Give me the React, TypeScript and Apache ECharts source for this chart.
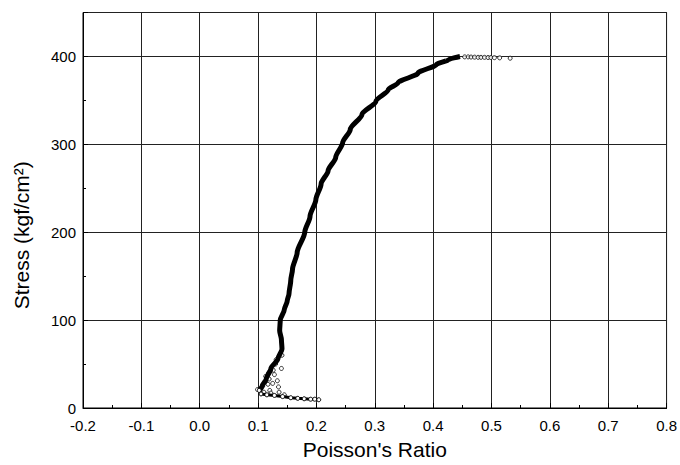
import React, { useEffect, useRef } from "react";
import * as echarts from "echarts";

// Main dense band (Poisson's ratio, stress)
const mainX = [0.102, 0.107, 0.114, 0.122, 0.134, 0.141, 0.140, 0.137, 0.138, 0.145, 0.150, 0.153, 0.156, 0.159, 0.167, 0.180, 0.189, 0.199, 0.208, 0.220, 0.233, 0.245, 0.258, 0.278, 0.302, 0.323, 0.340, 0.374, 0.406, 0.425, 0.446];
const mainY = [20, 25, 33, 45, 56, 67, 78, 88, 100, 112, 122, 130, 145, 158, 177, 200, 218, 237, 255, 270, 285, 302, 317, 334, 349, 362, 370, 381, 391, 396, 400];

// Lower leg at the start of loading
const legX = [0.102, 0.105, 0.115, 0.128, 0.142, 0.156, 0.168, 0.179, 0.190, 0.197, 0.204];
const legY = [20, 16, 15, 14.3, 13, 11.7, 11, 10.5, 10, 10, 9.4];

// Scattered points near the bottom
const noiseX = [0.133, 0.136, 0.099, 0.118, 0.125, 0.112, 0.130, 0.108, 0.140, 0.120, 0.115, 0.145, 0.128, 0.110, 0.135, 0.104, 0.122, 0.117, 0.126, 0.113, 0.131, 0.141, 0.119];
const noiseY = [31, 18, 21, 40, 28, 30, 50, 25, 45, 20, 35, 15, 38, 18, 24, 22, 17, 27, 43, 36, 55, 60, 33];

// Sparse points at the top (failure)
const tailX = [0.454, 0.460, 0.465, 0.471, 0.477, 0.482, 0.488, 0.494, 0.499, 0.505, 0.514, 0.532];
const tailY = [399.5, 399.5, 399.3, 399.2, 399, 399, 399, 398.8, 398.8, 398.6, 398.4, 398];

const zip = (xs: number[], ys: number[]) => xs.map((x, i) => [x, ys[i]]);

export default function App() {
  const ref = useRef<HTMLDivElement>(null);
  useEffect(() => {
    document.body.style.margin = "0";
    const chart = echarts.init(ref.current!, null, { renderer: "svg" });
    const font = "'Liberation Sans', Arial, sans-serif";
    const circle = { color: "#fff", borderColor: "#000", borderWidth: 1 };
    chart.setOption({
      animation: false,
      grid: {
        left: 83,
        right: 10,
        top: 12.5,
        bottom: 55.7,
        show: true,
        borderColor: "#000",
        borderWidth: 1,
        backgroundColor: "transparent",
      },
      xAxis: {
        type: "value",
        min: -0.2,
        max: 0.8,
        interval: 0.1,
        name: "Poisson's Ratio",
        nameLocation: "middle",
        nameGap: 31,
        nameTextStyle: { fontSize: 21, color: "#000", fontFamily: font },
        axisLine: { onZero: false, lineStyle: { color: "#000", width: 1 } },
        axisTick: { inside: true, length: 5, lineStyle: { color: "#000" } },
        minorTick: { show: true, splitNumber: 2, length: 3, lineStyle: { color: "#000" } },
        axisLabel: {
          fontSize: 15,
          color: "#000",
          fontFamily: font,
          margin: 10,
          formatter: (v: number) => v.toFixed(1),
        },
        splitLine: { show: true, lineStyle: { color: "#222", width: 1 } },
      },
      yAxis: {
        type: "value",
        min: 0,
        max: 450,
        interval: 100,
        name: "Stress (kgf/cm²)",
        nameLocation: "middle",
        nameGap: 51,
        nameTextStyle: { fontSize: 21, color: "#000", fontFamily: font, padding: [0, 50, 0, 0] },
        axisLine: { onZero: false, lineStyle: { color: "#000", width: 1 } },
        axisTick: { inside: true, length: 5, lineStyle: { color: "#000" } },
        minorTick: { show: true, splitNumber: 2, length: 3, lineStyle: { color: "#000" } },
        axisLabel: {
          fontSize: 15,
          color: "#000",
          fontFamily: font,
          margin: 7,
          showMaxLabel: false,
        },
        splitLine: { show: true, lineStyle: { color: "#222", width: 1 } },
      },
      series: [
        {
          type: "line",
          data: zip(mainX, mainY),
          showSymbol: false,
          symbol: "none",
          lineStyle: { color: "#000", width: 5 },
          smooth: 0.25,
          smoothMonotone: "y",
        },
        {
          type: "line",
          data: zip(legX, legY),
          symbol: "circle",
          symbolSize: 4,
          itemStyle: circle,
          lineStyle: { color: "#000", width: 3 },
        },
        {
          type: "scatter",
          data: zip(noiseX, noiseY),
          symbol: "circle",
          symbolSize: 4,
          itemStyle: circle,
        },
        {
          type: "scatter",
          data: zip(tailX, tailY),
          symbol: "circle",
          symbolSize: 4,
          itemStyle: circle,
        },
      ],
    });
    return () => chart.dispose();
  }, []);
  return <div ref={ref} style={{ width: 680, height: 465 }} />;
}
